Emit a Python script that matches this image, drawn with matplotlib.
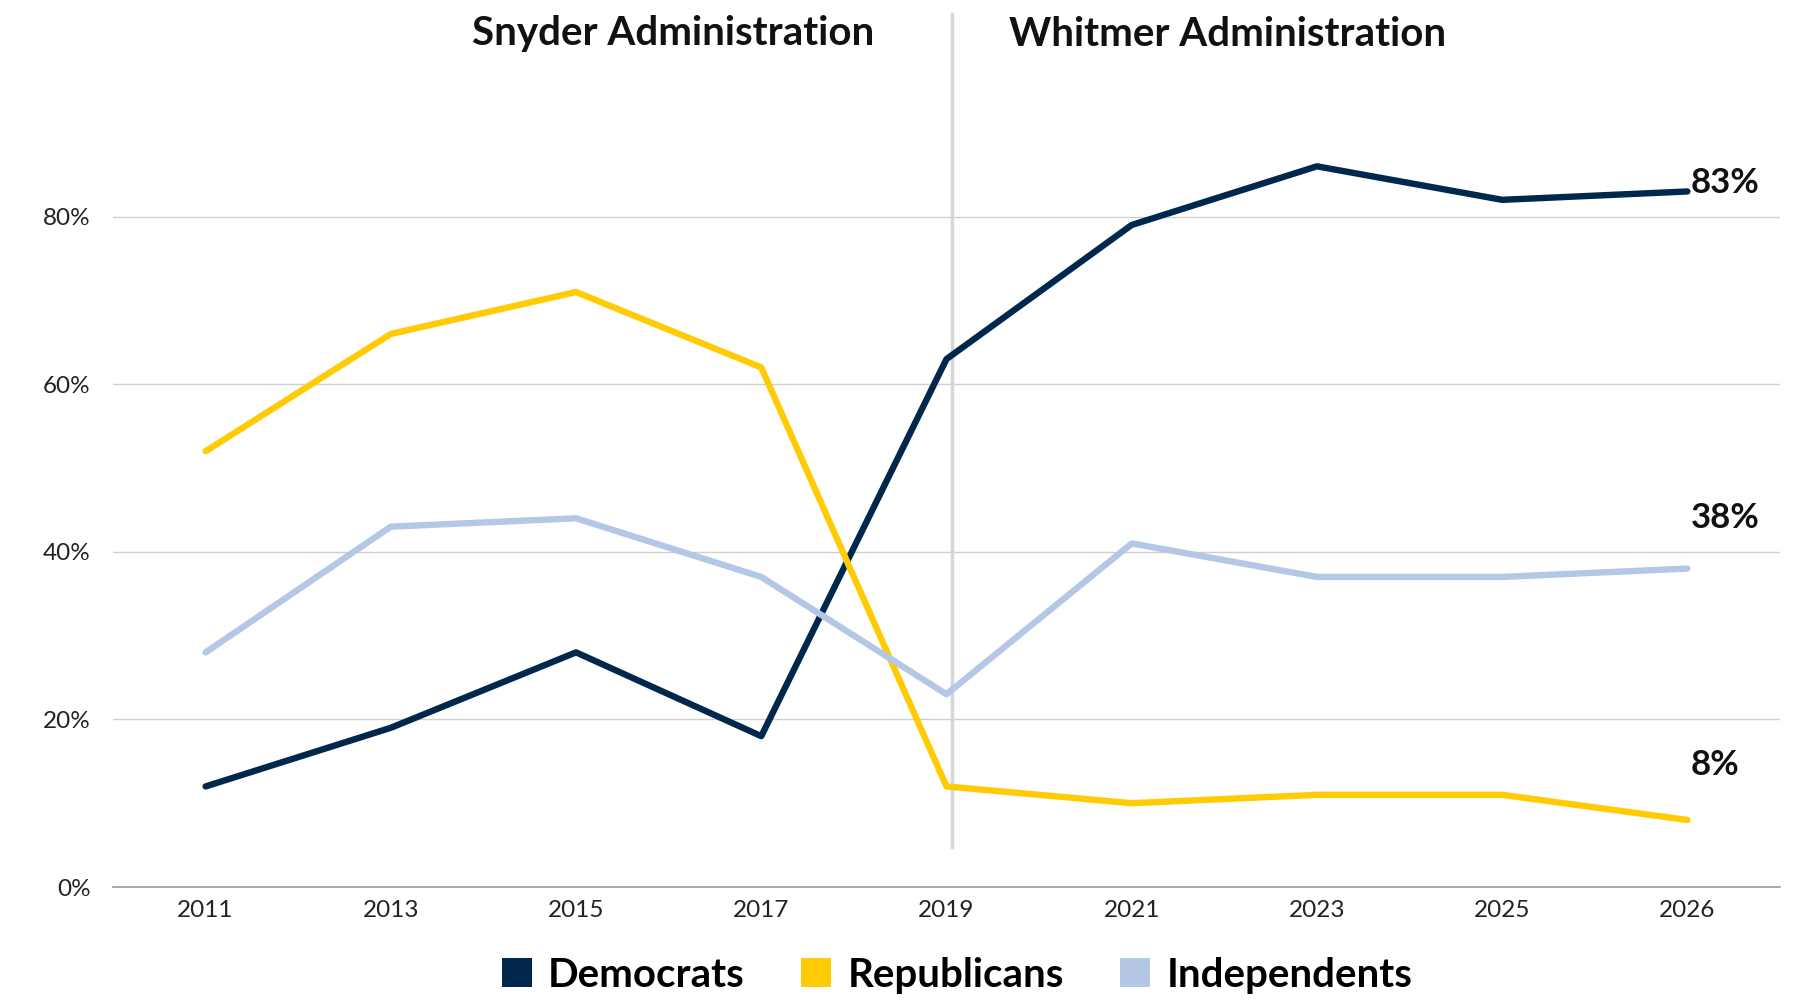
import matplotlib
matplotlib.use('Agg')
import matplotlib.pyplot as plt
from matplotlib.patches import Patch
from matplotlib.ticker import FuncFormatter

years = ['2011', '2013', '2015', '2017', '2019', '2021', '2023', '2025', '2026']
democrats = [12, 19, 28, 18, 63, 79, 86, 82, 83]
republicans = [52, 66, 71, 62, 12, 10, 11, 11, 8]
independents = [28, 43, 44, 37, 23, 41, 37, 37, 38]

series = [
    ('Democrats', democrats, '#00274C'),
    ('Republicans', republicans, '#FFCB05'),
    ('Independents', independents, '#B4C7E7'),
]

plt.rcParams['font.family'] = ['Lato', 'DejaVu Sans']

fig = plt.figure(figsize=(18.07, 10.05), dpi=100)
ax = fig.add_axes([113 / 1807, 1 - 887 / 1005, (1780 - 113) / 1807, (887 - 100) / 1005])

x = list(range(len(years)))
for name, vals, color in series:
    ax.plot(x, vals, color=color, lw=4.6, solid_capstyle='round', solid_joinstyle='round', zorder=3)

# end labels
for name, vals, color in series:
    off = {'Democrats': 1.0, 'Republicans': 6.5, 'Independents': 6.0}[name]
    ax.text(x[-1] + 0.02, vals[-1] + off, f'{vals[-1]}%', fontsize=25, fontweight='bold',
            ha='left', va='center', color='#111111')

# administration divider
ax.plot([4.03, 4.03], [4.8, 104.2], color='#D6D6D6', lw=2.5, clip_on=False, zorder=2)
fig.text(673 / 1807, 1 - 34 / 1005, 'Snyder Administration', fontsize=29, fontweight='bold',
         ha='center', va='center', color='#111111')
fig.text(1228 / 1807, 1 - 34 / 1005, 'Whitmer Administration', fontsize=29, fontweight='bold',
         ha='center', va='center', color='#111111')

ax.set_xlim(-0.5, len(years) - 0.5)
ax.set_ylim(0, 80 * (887 - 100) / (887 - 216.6))
ax.set_xticks(x)
ax.set_xticklabels(years)
ax.set_yticks([0, 20, 40, 60, 80])
ax.yaxis.set_major_formatter(FuncFormatter(lambda v, loc: f'{v:.0f}%'))
ax.tick_params(length=0, labelsize=17.5, colors='#222222')
ax.tick_params(axis='x', pad=9)
ax.tick_params(axis='y', pad=16)
ax.grid(axis='y', color='#D0D0D0', lw=1)
ax.set_axisbelow(True)
for s in ['top', 'right', 'left']:
    ax.spines[s].set_visible(False)
ax.spines['bottom'].set_color('#999999')
ax.spines['bottom'].set_linewidth(1.2)

handles = [Patch(facecolor=c, edgecolor='none', label=n) for n, _, c in series]
fig.legend(handles=handles, loc='center', bbox_to_anchor=(957 / 1807, 1 - 975 / 1005), ncol=3,
           frameon=False, prop={'size': 29, 'weight': 'bold'}, handlelength=0.75, handleheight=0.75,
           handletextpad=0.4, columnspacing=1.4)

fig.savefig('out.png', dpi=100)
